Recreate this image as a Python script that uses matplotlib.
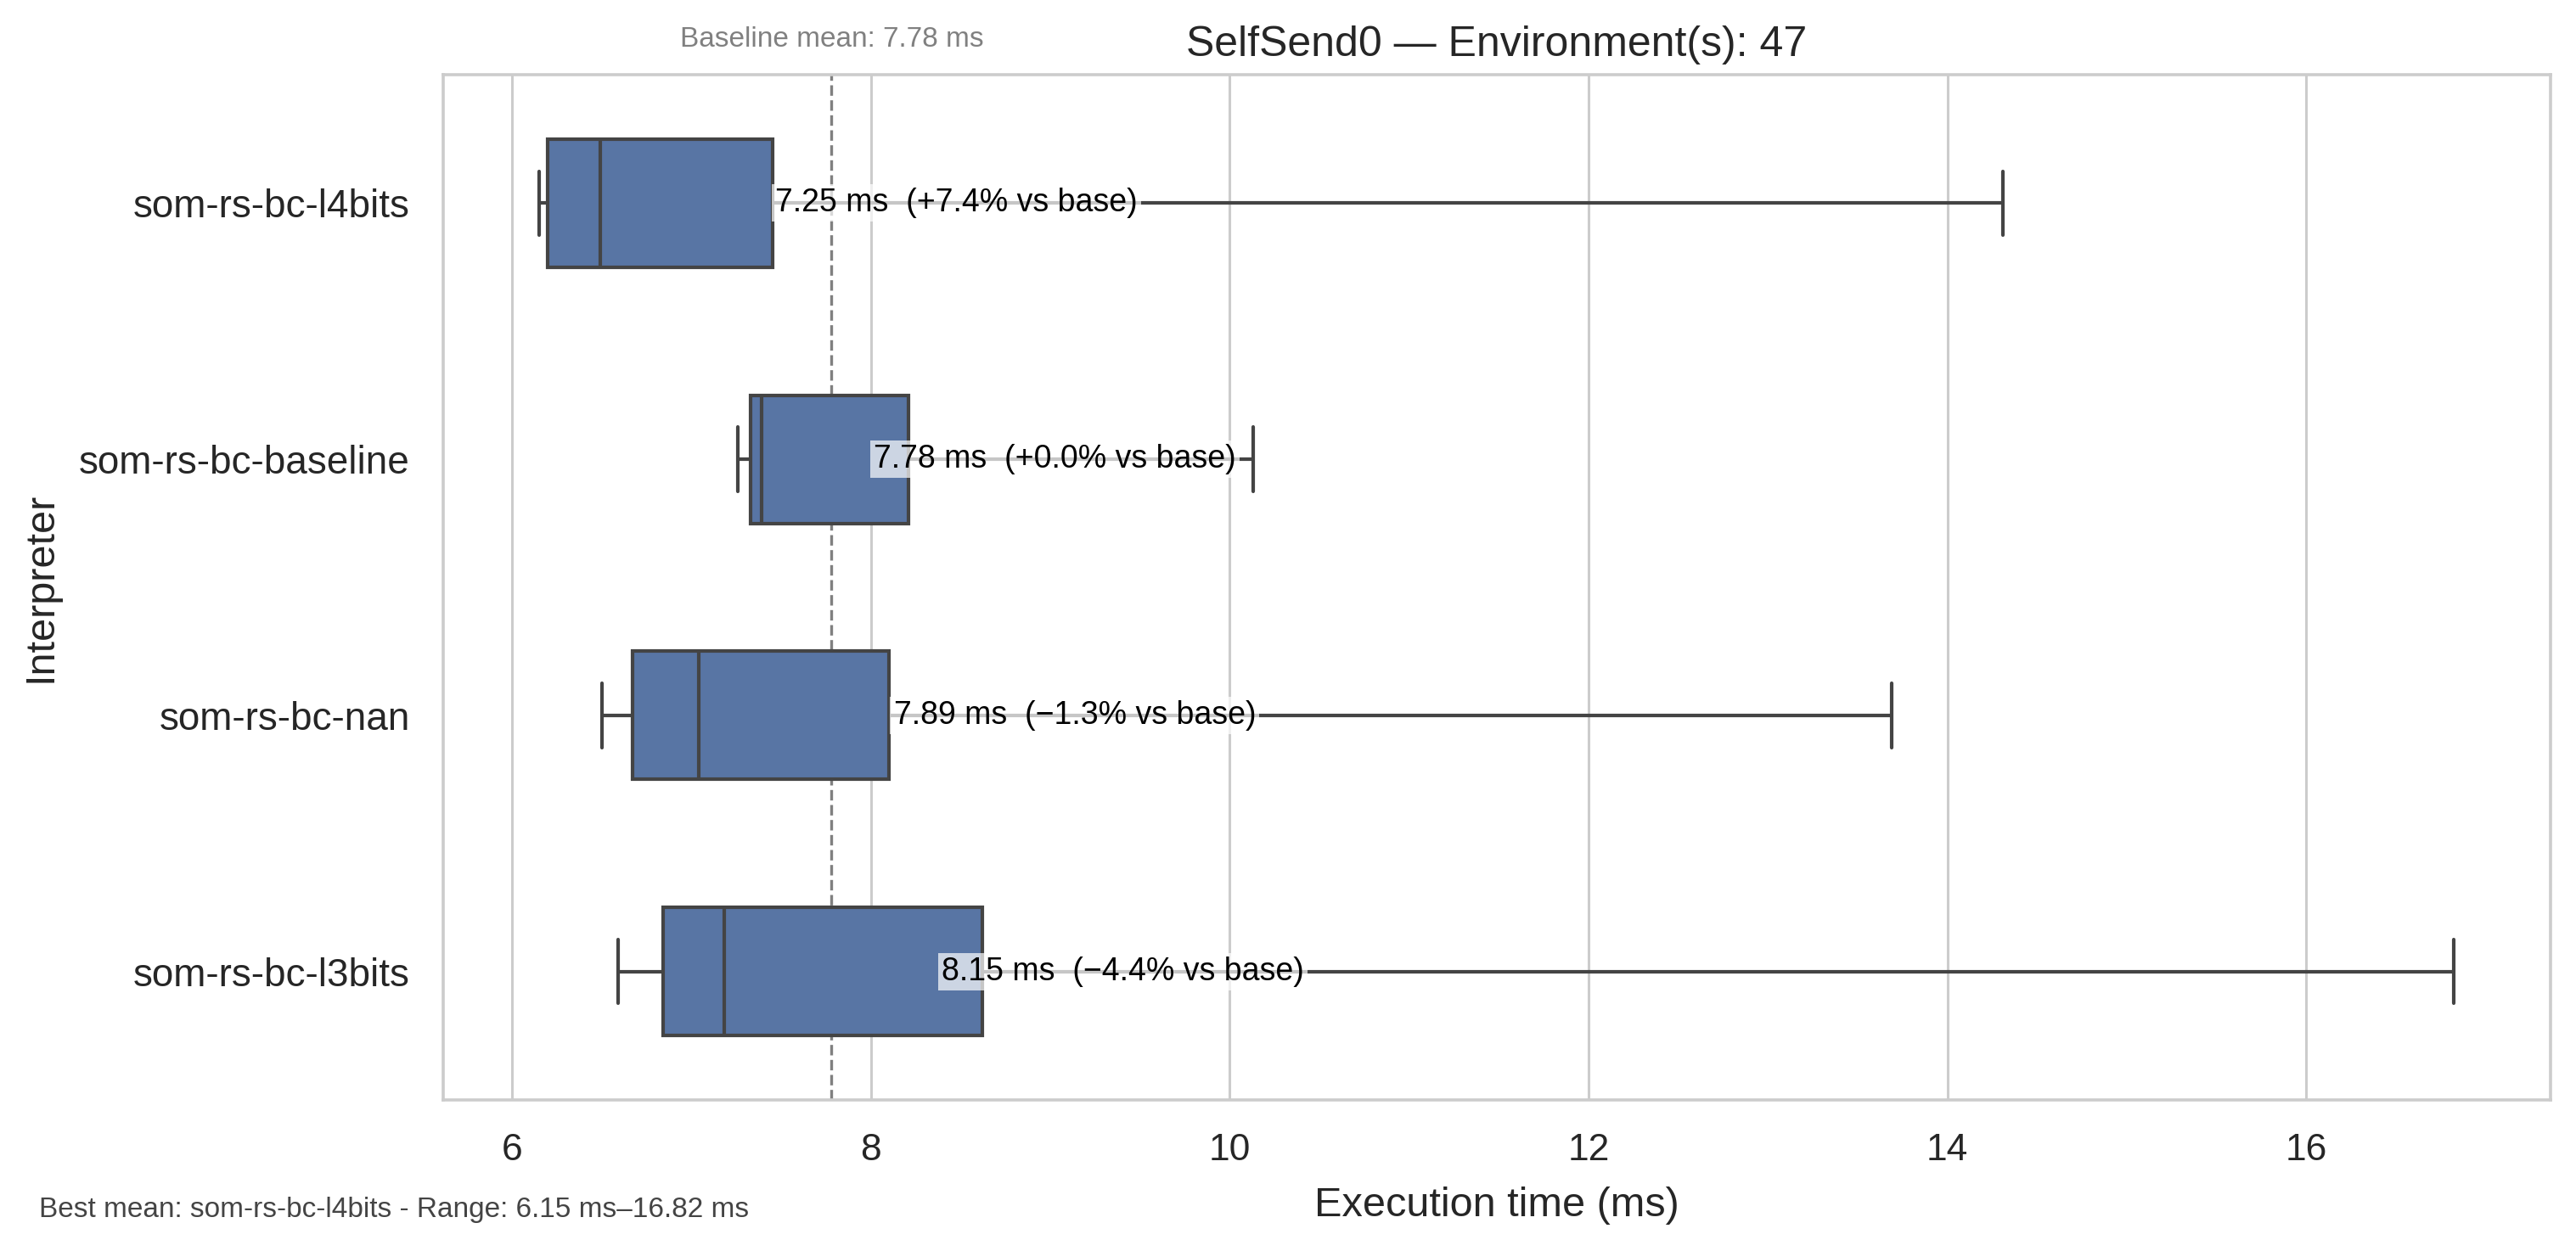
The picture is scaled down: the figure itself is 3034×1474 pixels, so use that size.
import matplotlib
matplotlib.use("Agg")
import matplotlib.pyplot as plt
import seaborn as sns

# values (ms)
interpreters = ["som-rs-bc-l4bits", "som-rs-bc-baseline", "som-rs-bc-nan", "som-rs-bc-l3bits"]
whisker_lo = [6.15, 7.26, 6.50, 6.59]
q1 = [6.20, 7.33, 6.67, 6.84]
median = [6.49, 7.39, 7.04, 7.18]
q3 = [7.45, 8.21, 8.10, 8.62]
whisker_hi = [14.31, 10.13, 13.69, 16.82]
means = [7.25, 7.78, 7.89, 8.15]
pct_vs_base = [7.4, 0.0, -1.3, -4.4]
baseline_mean = 7.78

sns.set_theme(style="whitegrid")
plt.rcParams['font.family'] = ['Liberation Sans', 'DejaVu Sans']

fig = plt.figure(figsize=(15.17, 7.37), dpi=200)
ax = fig.add_axes([0.172, 0.121, 0.818, 0.819])

stats = []
for i in range(len(interpreters)):
    stats.append({
        "label": interpreters[i],
        "whislo": whisker_lo[i],
        "q1": q1[i],
        "med": median[i],
        "q3": q3[i],
        "whishi": whisker_hi[i],
        "fliers": [],
    })

line_col = "#444444"
ax.bxp(stats, positions=range(len(stats)), vert=False, widths=0.5,
       patch_artist=True, showfliers=False, capwidths=0.25,
       boxprops=dict(facecolor="#5875a4", edgecolor=line_col, linewidth=1.5),
       medianprops=dict(color=line_col, linewidth=1.5),
       whiskerprops=dict(color=line_col, linewidth=1.5),
       capprops=dict(color=line_col, linewidth=1.5))

ax.set_ylim(3.5, -0.5)
ax.set_xlim(5.615, 17.36)
ax.grid(axis="y", visible=False)
ax.grid(axis="x", color="#cccccc", linewidth=1.1)
ax.set_axisbelow(True)
for s in ax.spines.values():
    s.set_color("#cccccc")
    s.set_linewidth(1.3)

ax.axvline(baseline_mean, color="gray", linestyle="--", linewidth=1.2, zorder=1.5)
ax.text(baseline_mean, 1.022, f"Baseline mean: {baseline_mean:.2f} ms", transform=ax.get_xaxis_transform(),
        ha="center", va="bottom", fontsize=12, color="gray")

for i, m in enumerate(means):
    sign = "+" if pct_vs_base[i] >= 0 else "\u2212"
    label = f"{m:.2f} ms  ({sign}{abs(pct_vs_base[i]):.1f}% vs base)"
    ax.text(m * 1.03, i, label, ha="left", va="center", fontsize=13.5, color="black",
            bbox=dict(facecolor="white", edgecolor="none", alpha=0.7, pad=1.5), zorder=5)

ax.set_yticks(range(len(interpreters)))
ax.set_yticklabels(interpreters)
ax.tick_params(axis="y", labelsize=16.5, colors="#262626", pad=8)
ax.tick_params(axis="x", labelsize=16, colors="#262626", pad=8)
ax.set_xlabel("Execution time (ms)", fontsize=17.5, color="#262626", labelpad=8)
ax.set_ylabel("Interpreter", fontsize=17.5, color="#262626", labelpad=8)
ax.set_title("SelfSend0 \u2014 Environment(s): 47", fontsize=18, color="#262626", pad=8)

fig.text(0.015, 0.033, f"Best mean: {interpreters[0]} - Range: {min(whisker_lo):.2f} ms\u2013{max(whisker_hi):.2f} ms",
         fontsize=12, color="#444444", ha="left", va="center")

fig.savefig("out.png", dpi=200)
